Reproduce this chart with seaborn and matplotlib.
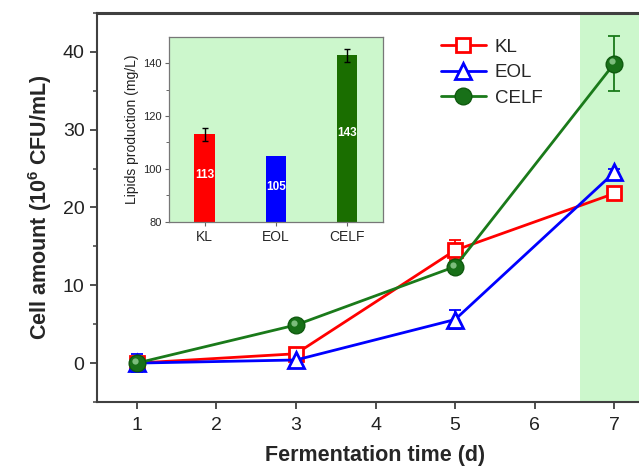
import matplotlib
matplotlib.use("Agg")
import matplotlib.pyplot as plt
import matplotlib.transforms as mtransforms
import seaborn as sns
import pandas as pd
import numpy as np
from matplotlib.lines import Line2D

# ---------------- data ----------------
days = [1, 3, 5, 7]
kl = [0.0, 1.2, 14.5, 21.8]
kl_err = [0.3, 0.6, 1.3, 0.6]
eol = [0.0, 0.4, 5.6, 24.5]
eol_err = [1.2, 0.4, 1.2, 0.5]
celf = [0.0, 4.9, 12.4, 38.5]
celf_err = [0.3, 0.4, 0.5, 3.5]

bar_cats = ["KL", "EOL", "CELF"]
bar_vals = [113, 105, 143]
bar_errs = [2.5, 0.0, 2.5]

sns.set_theme(style="ticks")
plt.rcParams["font.family"] = ["Liberation Sans", "DejaVu Sans"]
plt.rcParams["mathtext.default"] = "regular"

RED = "#ff0000"
BLUE = "#0000ff"
GREEN = "#1a7a1a"
SHADE = "#ccf7cc"
SPINE = "#404040"

fig = plt.figure(figsize=(6.39, 4.68), dpi=100)
ax = fig.add_axes([97 / 639, 1 - 402 / 468, (654 - 97) / 639, (402 - 13) / 468])

ax.set_xlim(0.5, 7.5)
ax.set_ylim(-5, 45)
ax.axvspan(6.57, 7.5, color=SHADE, zorder=0, lw=0)

series = [
    ("KL", kl, kl_err, RED, "s", 10, "white"),
    ("EOL", eol, eol_err, BLUE, "^", 12, "white"),
    ("CELF", celf, celf_err, GREEN, "o", 12, "#187018"),
]
for name, vals, errs, col, mk, ms, mfc in series:
    df = pd.DataFrame({"day": days, "val": vals})
    ax.errorbar(days, vals, yerr=errs, fmt="none", ecolor=col, elinewidth=1.3,
                capsize=4, capthick=1.3, zorder=2)
    sns.lineplot(data=df, x="day", y="val", ax=ax, color=col, lw=2,
                 marker=mk, markersize=ms, markerfacecolor=mfc,
                 markeredgecolor=col if name != "CELF" else "#0f5a0f",
                 markeredgewidth=2 if name != "CELF" else 1,
                 zorder=3, legend=False)
# highlight on spheres (offset up-left)
hl = mtransforms.offset_copy(ax.transData, fig=fig, x=-1.5, y=1.5, units="points")
ax.plot(days, celf, ls="none", marker="o", markersize=4.5, markerfacecolor="#9fd89f",
        markeredgewidth=0, alpha=0.75, zorder=4, transform=hl)

ax.set_xticks([1, 2, 3, 4, 5, 6, 7])
ax.set_yticks([0, 10, 20, 30, 40])
ax.set_yticks(np.arange(-5, 46, 10), minor=True)
ax.tick_params(axis="both", which="major", labelsize=14, direction="out",
               length=5, width=1.3, color=SPINE, labelcolor="#222222", pad=4)
ax.tick_params(axis="x", which="major", pad=6)
ax.tick_params(axis="y", which="minor", direction="out", length=3, width=1.1, color=SPINE)
for s in ["left", "bottom", "top", "right"]:
    ax.spines[s].set_color(SPINE)
    ax.spines[s].set_linewidth(1.5)
ax.spines["top"].set_linewidth(2.2)

ax.set_xlabel("Fermentation time (d)", fontsize=15.5, fontweight="bold", labelpad=8)
ax.set_ylabel("Cell amount (10$^6$ CFU/mL)", fontsize=15.5, fontweight="bold", labelpad=6)

handles = [
    Line2D([], [], color=RED, lw=2, marker="s", markersize=10, markerfacecolor="white",
           markeredgecolor=RED, markeredgewidth=2),
    Line2D([], [], color=BLUE, lw=2, marker="^", markersize=12, markerfacecolor="white",
           markeredgecolor=BLUE, markeredgewidth=2),
    Line2D([], [], color=GREEN, lw=2, marker="o", markersize=12, markerfacecolor="#187018",
           markeredgecolor="#0f5a0f", markeredgewidth=1),
]
leg = ax.legend(handles, ["KL", "EOL", "CELF"], loc="upper left",
                bbox_to_anchor=((433 - 97) / 557, 1 - (31 - 13) / 389),
                frameon=False, fontsize=13.5, handlelength=2.4, handletextpad=0.5,
                labelspacing=0.45, borderaxespad=0)

# ---------------- inset ----------------
iax = fig.add_axes([169 / 639, 1 - 221.7 / 468, (382.7 - 169) / 639, (221.7 - 36.7) / 468])
iax.set_facecolor(SHADE)
bdf = pd.DataFrame({"cat": bar_cats, "val": bar_vals})
sns.barplot(data=bdf, x="cat", y="val", hue="cat", saturation=1,
            palette=[RED, BLUE, "#1a6e00"], ax=iax, width=0.29,
            edgecolor="none", legend=False, zorder=2)
for i, (v, e) in enumerate(zip(bar_vals, bar_errs)):
    if e > 0:
        iax.errorbar(i, v, yerr=e, fmt="none", ecolor="black", elinewidth=1,
                     capsize=2, capthick=1, zorder=3)
iax.set_xlim(-0.5, 2.5)
iax.set_ylim(80, 150)
iax.set_yticks([80, 100, 120, 140])
iax.set_yticks([90, 110, 130], minor=True)
for i, v in enumerate(bar_vals):
    iax.text(i, 80 + 0.53 * (v - 80), f"{v}", color="white", ha="center",
             va="center", fontsize=8.5, fontweight="bold", zorder=4)
iax.set_xlabel("")
iax.set_ylabel("Lipids production (mg/L)", fontsize=10, labelpad=3, color="#222222")
iax.tick_params(axis="y", which="major", labelsize=8, direction="out", length=3,
                width=0.8, color="#666666", pad=2)
iax.tick_params(axis="y", which="minor", direction="out", length=2, width=0.7, color="#666666")
iax.tick_params(axis="x", labelsize=10, direction="out", length=3, width=0.8,
                color="#666666", pad=3)
for s in iax.spines.values():
    s.set_color("#777777")
    s.set_linewidth(0.9)

fig.savefig("out.png", dpi=100)
